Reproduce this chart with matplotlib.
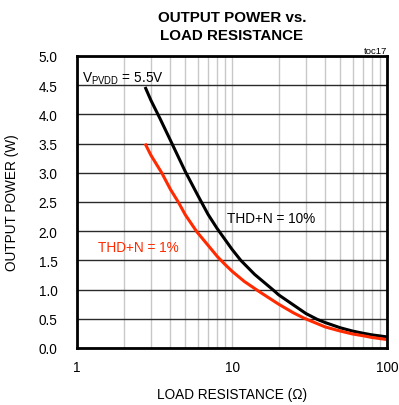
import matplotlib
matplotlib.use("Agg")
import matplotlib.pyplot as plt
from matplotlib.ticker import FixedLocator, NullFormatter, LogLocator

plt.rcParams['font.family'] = ['Liberation Sans', 'DejaVu Sans']
plt.rcParams['mathtext.fontset'] = 'custom'
plt.rcParams['mathtext.rm'] = 'Liberation Sans'

# Data (load resistance in ohms, output power in W)
r_10 = [2.75, 3.0, 3.43, 4.0, 5.0, 6.0, 7.0, 8.0, 9.0, 10, 11.4, 14.0, 18.5, 20,
        30, 35.5, 40, 50, 60, 70, 80, 100]
p_10 = [4.47, 4.24, 3.93, 3.56, 3.02, 2.62, 2.29, 2.05, 1.86, 1.69, 1.50, 1.26, 0.99, 0.91,
        0.59, 0.49, 0.435, 0.346, 0.29, 0.253, 0.225, 0.19]
r_1 = [2.75, 3.0, 3.52, 4.0, 4.5, 5.0, 5.93, 7.1, 8.08, 9.1, 10.05, 12, 14.9, 20, 25,
       29.2, 40, 50, 60, 70, 80, 100]
p_1 = [3.5, 3.30, 3.0, 2.72, 2.50, 2.28, 1.99, 1.74, 1.56, 1.42, 1.31, 1.14, 0.97, 0.75, 0.60,
       0.51, 0.36, 0.29, 0.24, 0.21, 0.18, 0.145]
y_ticks = [0.0, 0.5, 1.0, 1.5, 2.0, 2.5, 3.0, 3.5, 4.0, 4.5, 5.0]
x_ticks = [1, 10, 100]
x_ticklabels = ['1', '10', '100']

fs = 9.8

fig = plt.figure(figsize=(3.99, 4.06), dpi=100)
ax = fig.add_axes([77/399, 1-349/406, 310/399, 292/406])

ax.set_xscale('log')
ax.set_xlim(1, 100)
ax.set_ylim(0, 5)

ax.xaxis.set_major_locator(FixedLocator(x_ticks))
ax.set_xticklabels(x_ticklabels)
ax.xaxis.set_minor_locator(LogLocator(base=10, subs=range(2, 10)))
ax.xaxis.set_minor_formatter(NullFormatter())
ax.set_yticks(y_ticks)
ax.set_yticklabels([f"{v:.1f}" for v in y_ticks])

ax.grid(True, which='both', axis='x', color='#c8c8c8', linewidth=1.0)
ax.grid(True, which='major', axis='y', color='#2a2a2a', linewidth=1.0)
ax.set_axisbelow(True)

ax.tick_params(axis='both', which='both', length=0, labelsize=fs)
ax.tick_params(axis='y', pad=14)
ax.tick_params(axis='x', pad=9)

for s in ax.spines.values():
    s.set_linewidth(2.0)
    s.set_color('black')

ax.plot(r_10, p_10, color='black', linewidth=2.2, solid_joinstyle='round', solid_capstyle='butt')
ax.plot(r_1, p_1, color='#ff2a00', linewidth=2.2, solid_joinstyle='round', solid_capstyle='butt')

ax.text(0.015, 0.955, r'V$_{\mathrm{PVDD}}$ = 5.5V', transform=ax.transAxes,
        fontsize=fs, va='top', ha='left')
ax.text(0.485, 0.445, 'THD+N = 10%', transform=ax.transAxes, fontsize=fs,
        va='center', ha='left')
ax.text(0.068, 0.345, 'THD+N = 1%', transform=ax.transAxes, fontsize=fs,
        va='center', ha='left', color='#ff2a00')
ax.text(1.0, 1.005, 'toc17', transform=ax.transAxes, fontsize=6.8,
        va='bottom', ha='right')

ax.set_xlabel('LOAD RESISTANCE (\u03a9)', fontsize=fs, labelpad=9)
ax.set_ylabel('OUTPUT POWER (W)', fontsize=fs, labelpad=14)

fig.text(232/399, 1-27/406, 'OUTPUT POWER vs.\nLOAD RESISTANCE', ha='center', va='center',
         fontsize=10.9, fontweight='bold', linespacing=1.35)

fig.savefig('out.png', dpi=100)
